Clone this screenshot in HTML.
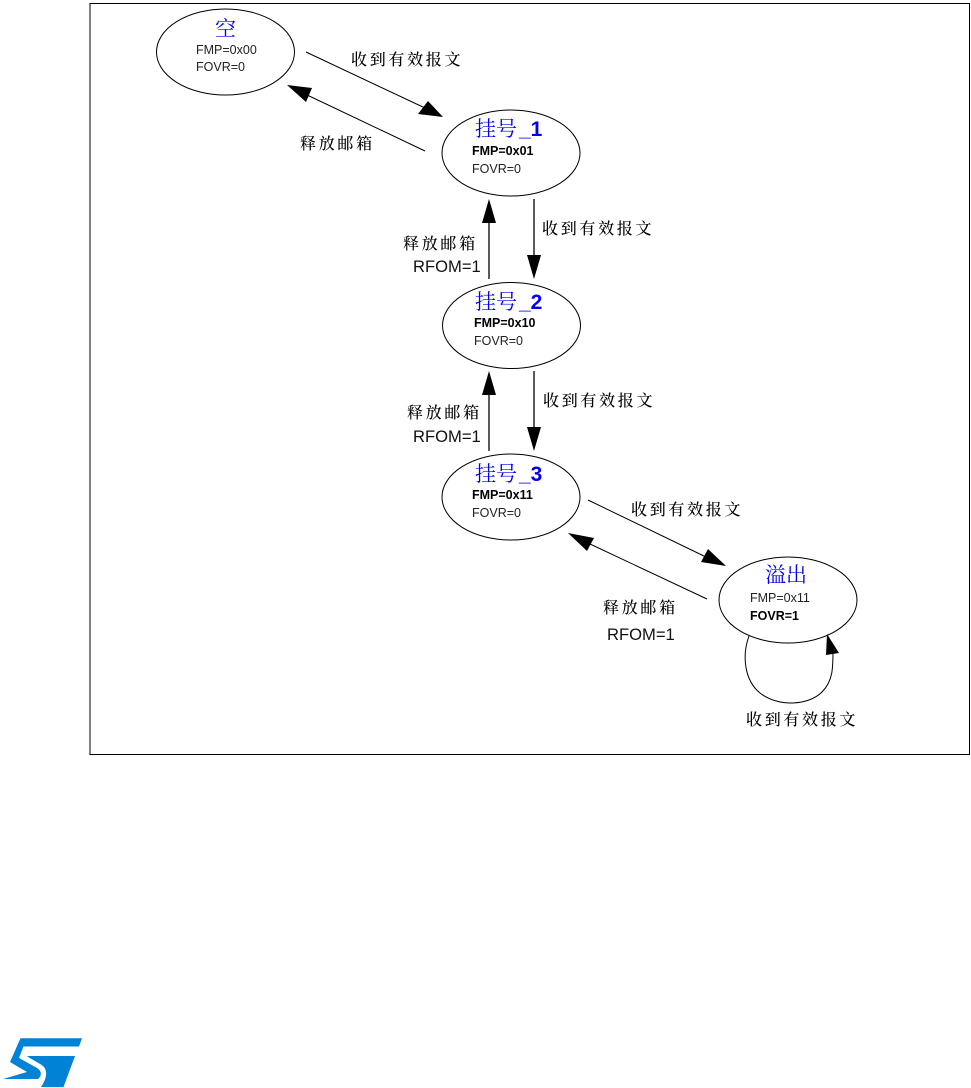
<!DOCTYPE html>
<html>
<head>
<meta charset="utf-8">
<style>
html,body{margin:0;padding:0;background:#fff;width:971px;height:1088px;overflow:hidden}
svg{display:block}
.t{font-family:"Noto Serif CJK SC","Liberation Serif",serif;fill:#0000ee;font-size:21px}
.n{font-family:"Liberation Sans",sans-serif;fill:#0000ee;font-size:21px;font-weight:bold}
.s{font-family:"Liberation Sans",sans-serif;font-size:12.5px;fill:#222}
.b{font-weight:bold;fill:#000}
.l{font-family:"Noto Serif CJK SC","Liberation Serif",serif;font-size:16px;font-weight:500;letter-spacing:2.7px;fill:#000}
.r{font-family:"Liberation Sans",sans-serif;font-size:16.6px;fill:#111}
</style>
</head>
<body>
<svg width="971" height="1088" viewBox="0 0 971 1088" xmlns="http://www.w3.org/2000/svg">
<rect x="90" y="3.5" width="879.5" height="751" fill="none" stroke="#000" stroke-width="1"/>
<g fill="none" stroke="#000" stroke-width="1">
<ellipse cx="225.5" cy="52" rx="69" ry="43"/>
<ellipse cx="511" cy="153" rx="69" ry="43"/>
<ellipse cx="511.5" cy="325.5" rx="69" ry="43"/>
<ellipse cx="511" cy="497" rx="69" ry="43"/>
<ellipse cx="788" cy="600" rx="69" ry="43"/>
<path d="M306 52L425 108"/>
<path d="M425 151L305 94"/>
<path d="M534 199V258" stroke-width="1.3"/>
<path d="M489 279V220" stroke-width="1.3"/>
<path d="M534 371V430" stroke-width="1.3"/>
<path d="M489 451V392" stroke-width="1.3"/>
<path d="M588 500L708 558"/>
<path d="M707 599L590 544"/>
<path d="M749 636C742 655 744 680 760 693C778 707 808 706 822 692C833 681 833 668 833 650"/>
</g>
<g fill="#000">
<path d="M443 117L418 114L428 101Z"/>
<path d="M287 85L312 88L306 102Z"/>
<path d="M534 279L527 255H541Z"/>
<path d="M489 199L482 223H496Z"/>
<path d="M534 451L527 427H541Z"/>
<path d="M489 371L482 395H496Z"/>
<path d="M726 566L701 562L708 549Z"/>
<path d="M568 533L594 538L587 551Z"/>
<path d="M827 634L826 655L839 653Z"/>
</g>
<text class="t" x="215" y="36">空</text>
<text class="s" x="196" y="54">FMP=0x00</text>
<text class="s" x="196" y="71">FOVR=0</text>
<text class="t" x="475" y="136">挂号</text><text class="n" x="519" y="136">_1</text>
<text class="s b" x="472" y="155">FMP=0x01</text>
<text class="s" x="472" y="173">FOVR=0</text>
<text class="t" x="475" y="309">挂号</text><text class="n" x="519" y="309">_2</text>
<text class="s b" x="474" y="327">FMP=0x10</text>
<text class="s" x="474" y="345">FOVR=0</text>
<text class="t" x="475" y="481">挂号</text><text class="n" x="519" y="481">_3</text>
<text class="s b" x="472" y="499">FMP=0x11</text>
<text class="s" x="472" y="517">FOVR=0</text>
<text class="t" x="765" y="582">溢出</text>
<text class="s" x="750" y="602">FMP=0x11</text>
<text class="s b" x="750" y="620">FOVR=1</text>
<text class="l" x="351" y="65">收到有效报文</text>
<text class="l" x="300" y="149">释放邮箱</text>
<text class="l" x="542" y="234">收到有效报文</text>
<text class="l" x="403" y="249">释放邮箱</text>
<text class="r" x="413" y="272">RFOM=1</text>
<text class="l" x="543" y="406">收到有效报文</text>
<text class="l" x="407" y="418">释放邮箱</text>
<text class="r" x="413" y="442">RFOM=1</text>
<text class="l" x="631" y="515">收到有效报文</text>
<text class="l" x="603" y="613">释放邮箱</text>
<text class="r" x="607" y="640">RFOM=1</text>
<text class="l" x="746" y="725">收到有效报文</text>
<g fill="#0082d6">
<path d="M20.5 1038.3H82L79 1046.5H23.5L19 1058L37 1068C42 1071 42 1076 38 1079H3L27 1072L10 1062Z"/>
<path d="M27 1056H75L63.5 1087H41C46 1080 48 1072 44 1067C40 1063 32 1060 27 1056Z"/>
</g>
</svg>
</body>
</html>
